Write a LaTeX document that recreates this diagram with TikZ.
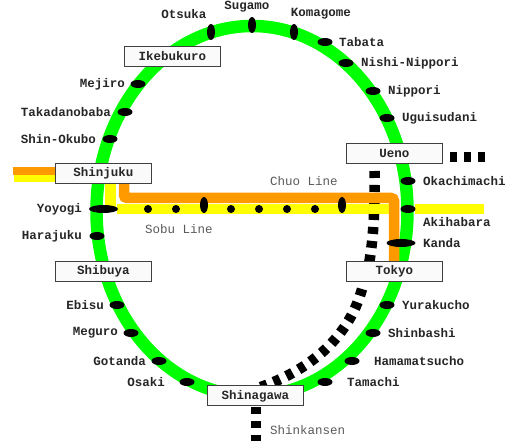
\documentclass[tikz,border=0pt]{standalone}
\usepackage{fontspec}
\setmonofont{Liberation Mono}
\usetikzlibrary{shapes.geometric}
\definecolor{jrgreen}{RGB}{0,255,0}
\definecolor{jrorange}{RGB}{255,153,0}
\definecolor{jryellow}{RGB}{255,255,0}
\tikzset{
  x=1pt,y=-1pt,
  loopline/.style={draw=jrgreen,line width=12.5pt},
  orangeline/.style={draw=jrorange,line width=10.5pt,rounded corners=3pt},
  yellowline/.style={draw=jryellow,line width=10.5pt},
  Bullet/.style={ellipse,fill=black,draw=none,minimum width=#1,minimum height=8pt,inner sep=0pt},
  Bullet/.default=15pt,
  vbullet/.style={ellipse,fill=black,draw=none,minimum width=8pt,minimum height=16pt,inner sep=0pt},
  dot/.style={circle,fill=black,draw=none,minimum size=8pt,inner sep=0pt},
  hub/.style={draw=black!75,line width=1pt,fill=white!98!black,minimum width=96pt,minimum height=20pt,inner sep=0pt,
    font=\ttfamily\bfseries\fontsize{12.5pt}{13pt}\selectfont,text=black!85},
  lab/.style={inner sep=0pt,font=\ttfamily\bfseries\fontsize{12.5pt}{13pt}\selectfont,text=black!85},
  linelab/.style={inner sep=0pt,font=\ttfamily\fontsize{12.5pt}{13pt}\selectfont,text=black!65},
  rail/.style={draw=black,line width=10.5pt,dash pattern=on 7pt off 7pt},
}
\begin{document}
\begin{tikzpicture}
\useasboundingbox (0,0) rectangle (523,446);
\coordinate (loopc) at (252,211);
\draw[loopline] (loopc) ellipse [x radius=155.5pt,y radius=185pt];
% Shinkansen
\coordinate (sk1) at (374.5,171);
\coordinate (sk2) at (369,264);
\coordinate (sk2b) at (362,289);
\coordinate (sk3) at (258,388);
\coordinate (sk4) at (256,407);
\coordinate (sk5) at (256,441);
\coordinate (sk6) at (450,157);
\coordinate (sk7) at (485,157);
\draw[rail] (sk1) .. controls (375,215) and (373,240) .. (sk2);
\draw[rail] (sk2b) .. controls (352,325) and (325,365) .. (sk3);
\draw[rail] (sk4) -- (sk5);
\draw[rail,line width=10pt] (sk6) -- (sk7);
% Chuo and Sobu
\coordinate (o1) at (124,184);
\coordinate (o2) at (124,198);
\coordinate (o3) at (394,198);
\coordinate (o4) at (394,262);
\coordinate (y1) at (110.5,184);
\coordinate (y2) at (110.5,209);
\coordinate (y3) at (117,209);
\coordinate (y4) at (390,209);
\coordinate (y5) at (415,209);
\coordinate (y6) at (484,209);
\coordinate (w1) at (13,171);
\coordinate (w2) at (56,171);
\coordinate (w3) at (14,178.5);
\coordinate (w4) at (56,178.5);
\draw[yellowline] (y1) -- (y2);
\draw[yellowline] (y3) -- (y4);
\draw[yellowline] (y5) -- (y6);
\draw[orangeline] (o1) -- (o2) -- (o3) -- (o4);
\draw[draw=jrorange,line width=8pt] (w1) -- (w2);
\draw[draw=jryellow,line width=7pt] (w3) -- (w4);
% Stations on the loop
\node[vbullet] (otsuka) at (211,32) {};
\node[vbullet] (sugamo) at (252,25) {};
\node[vbullet] (komagome) at (294,32) {};
\node[Bullet] (tabata) at (325,42) {};
\node[Bullet] (nishi) at (346,63) {};
\node[Bullet] (nippori) at (373,91) {};
\node[Bullet] (uguisu) at (387,118) {};
\node[Bullet] (okachi) at (408,181) {};
\node[Bullet] (akiha) at (408,209) {};
\node[Bullet=29pt] (kanda) at (401,243) {};
\node[Bullet] (yuraku) at (387,305) {};
\node[Bullet] (shinba) at (373,333) {};
\node[Bullet] (hama) at (352,361) {};
\node[Bullet] (tamachi) at (325,382) {};
\node[Bullet] (osaki) at (187,382) {};
\node[Bullet] (gotanda) at (159,361) {};
\node[Bullet] (meguro) at (131,333) {};
\node[Bullet] (ebisu) at (117,305) {};
\node[Bullet] (harajuku) at (97,236) {};
\node[Bullet=29pt] (yoyogi) at (103.5,209) {};
\node[Bullet] (shinok) at (110,139) {};
\node[Bullet] (takada) at (125,112) {};
\node[Bullet] (mejiro) at (138,84) {};
% Stations on the Chuo and Sobu lines
\node[dot] (s1) at (148,209) {};
\node[dot] (s2) at (176,209) {};
\node[vbullet] (s3) at (204,205) {};
\node[dot] (s4) at (231,209) {};
\node[dot] (s5) at (259,209) {};
\node[dot] (s6) at (287,209) {};
\node[dot] (s7) at (315,209) {};
\node[vbullet] (s8) at (342,205) {};
% Hubs
\node[hub] (ikebukuro) at (172.5,56.5) {Ikebukuro};
\node[hub] (shinjuku) at (103.5,173.5) {Shinjuku};
\node[hub] (shibuya) at (103.5,271.5) {Shibuya};
\node[hub] (ueno) at (394.5,153.5) {Ueno};
\node[hub] (tokyo) at (394.5,271.5) {Tokyo};
\node[hub] (shinagawa) at (255.5,396) {Shinagawa};
% Labels
\node[lab] (lotsuka) at (184,14) {Otsuka};
\node[lab] (lsugamo) at (247,7) {Sugamo};
\node[lab] (lkomagome) at (321,14) {Komagome};
\node[lab,anchor=west] (ltabata) at (339,42) {Tabata};
\node[lab,anchor=west] (lnishi) at (361,63) {Nishi-Nippori};
\node[lab,anchor=west] (lnippori) at (388,91) {Nippori};
\node[lab,anchor=west] (luguisu) at (402,118) {Uguisudani};
\node[lab,anchor=west] (lokachi) at (423,181) {Okachimachi};
\node[lab,anchor=west] (lakiha) at (423,222) {Akihabara};
\node[lab,anchor=west] (lkanda) at (423,243) {Kanda};
\node[lab,anchor=west] (lyuraku) at (402,305) {Yurakucho};
\node[lab,anchor=west] (lshinba) at (388,333) {Shinbashi};
\node[lab,anchor=west] (lhama) at (374,361) {Hamamatsucho};
\node[lab,anchor=west] (ltamachi) at (347,382) {Tamachi};
\node[lab,anchor=east] (losaki) at (165,382) {Osaki};
\node[lab,anchor=east] (lgotanda) at (146,361) {Gotanda};
\node[lab,anchor=east] (lmeguro) at (118,333) {Meguro};
\node[lab,anchor=east] (lebisu) at (104,305) {Ebisu};
\node[lab,anchor=east] (lharajuku) at (82,236) {Harajuku};
\node[lab,anchor=east] (lyoyogi) at (82,209) {Yoyogi};
\node[lab,anchor=east] (lshinok) at (96,139) {Shin-Okubo};
\node[lab,anchor=east] (ltakada) at (111,112) {Takadanobaba};
\node[lab,anchor=east] (lmejiro) at (125,84) {Mejiro};
\node[linelab,anchor=west] (lchuo) at (270,181) {Chuo Line};
\node[linelab,anchor=west] (lsobu) at (145,229) {Sobu Line};
\node[linelab,anchor=west] (lshink) at (270,430) {Shinkansen};
\end{tikzpicture}
\end{document}
